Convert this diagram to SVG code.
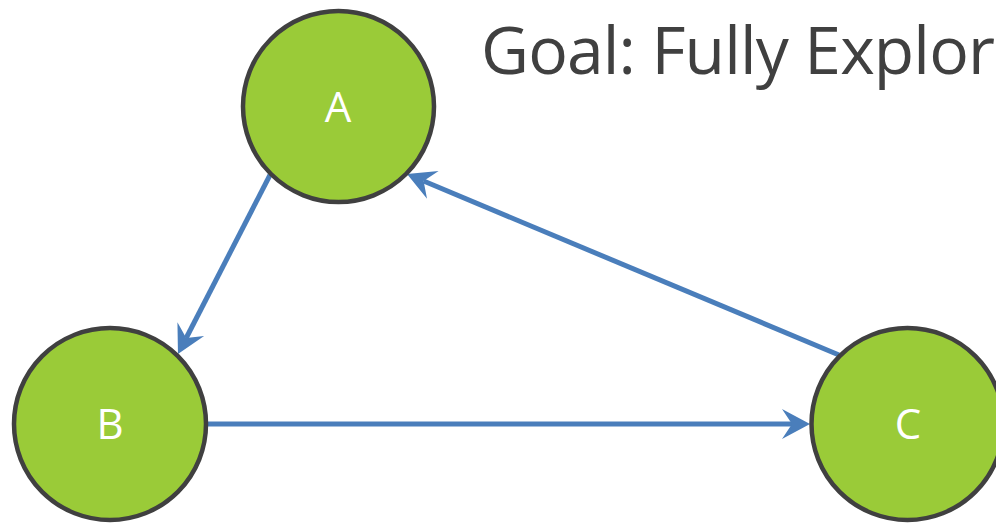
<svg xmlns="http://www.w3.org/2000/svg" width="996" height="523" viewBox="0 0 996 523">
<style>
.node{fill:#9ACB38;stroke:#404040;stroke-width:4.5}
.lbl{font-family:"Open Sans","Liberation Sans",sans-serif;font-size:42px;fill:#ffffff;text-anchor:middle}
.edge{stroke:#4A7EBB;stroke-width:5;fill:none}
.title{font-family:"Open Sans","Liberation Sans",sans-serif;font-size:66px;fill:#404040}
</style>
<defs>
<marker id="arr" markerUnits="userSpaceOnUse" viewBox="-30 -16 32 32" markerWidth="32" markerHeight="32" refX="-18" refY="0" orient="auto">
<path d="M0,0 L-28,-15 L-18,0 L-28,15 Z" fill="#4A7EBB"/>
</marker>
</defs>
<rect width="996" height="523" fill="#ffffff"/>
<text class="title" x="481" y="74" textLength="514" lengthAdjust="spacing">Goal: Fully Explor</text>
<g id="connectors">
<line class="edge" x1="270" y1="175" x2="186.2" y2="338" marker-end="url(#arr)"/>
<line class="edge" x1="208" y1="424" x2="792" y2="424" marker-end="url(#arr)"/>
<line class="edge" x1="839" y1="355" x2="423.6" y2="181" marker-end="url(#arr)"/>
</g>
<g id="node-A">
<circle class="node" cx="338.5" cy="106.5" r="95.5"/>
<text class="lbl" x="338" y="122">A</text>
</g>
<g id="node-B">
<circle class="node" cx="110" cy="424" r="96"/>
<text class="lbl" x="110" y="439">B</text>
</g>
<g id="node-C">
<circle class="node" cx="907.5" cy="424" r="96"/>
<text class="lbl" x="908" y="439">C</text>
</g>
</svg>
